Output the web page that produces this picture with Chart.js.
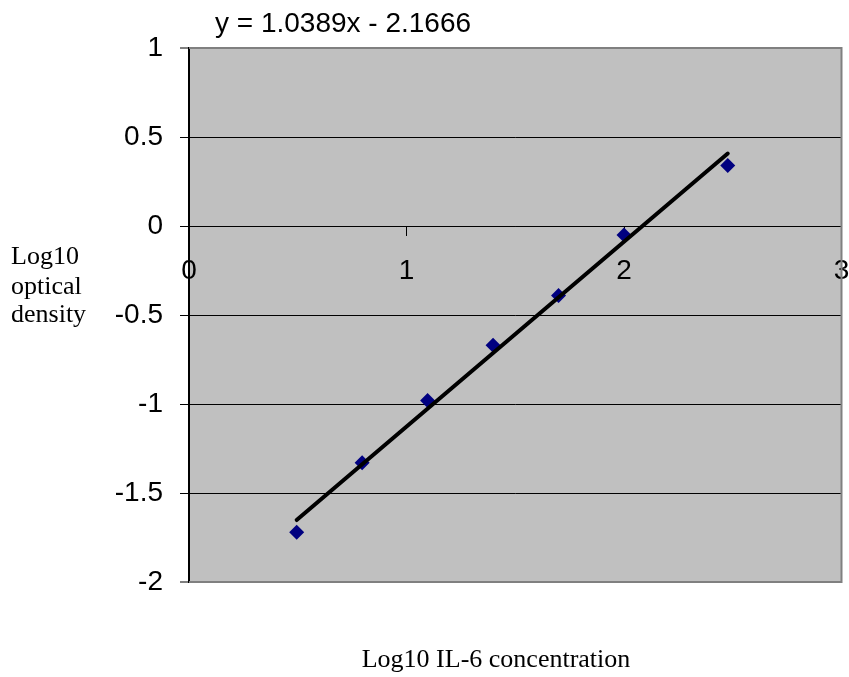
<!DOCTYPE html>
<html>
<head>
<meta charset="utf-8">
<script src="https://cdn.jsdelivr.net/npm/chart.js@4/dist/chart.umd.min.js"></script>
<style>
  html, body { margin: 0; padding: 0; background: #ffffff; }
  #wrap { width: 849px; height: 677px; position: relative; }
</style>
</head>
<body>
<div id="wrap"><canvas id="c" width="849" height="677"></canvas></div>
<script>
// ---- data ----
const xValues = [0.495, 0.796, 1.097, 1.398, 1.699, 2.0, 2.477];   // Log10 IL-6 concentration
const yValues = [-1.72, -1.33, -0.98, -0.67, -0.39, -0.05, 0.34];   // Log10 optical density
const trendX = [0.495, 2.477];
const trendY = [-1.652, 0.407];
const equationText = 'y = 1.0389x - 2.1666';
const xTickValues = [0, 1, 2, 3];
const xTickLabels = ['0', '1', '2', '3'];
const yTickValues = [1, 0.5, 0, -0.5, -1, -1.5, -2];
const yTickLabels = ['1', '0.5', '0', '-0.5', '-1', '-1.5', '-2'];
const yTitleLines = ['Log10', 'optical', 'density'];
const xTitleText = 'Log10 IL-6 concentration';

function labelFor(values, labels, v) {
  for (let i = 0; i < values.length; i++) {
    if (Math.abs(values[i] - v) < 1e-9) return labels[i];
  }
  return '';
}

const points = xValues.map((x, i) => ({ x: x, y: yValues[i] }));
const trend = trendX.map((x, i) => ({ x: x, y: trendY[i] }));

const decor = {
  id: 'decor',
  beforeDraw(chart) {
    const a = chart.chartArea;
    const ctx = chart.ctx;
    ctx.save();
    ctx.fillStyle = '#C0C0C0';
    ctx.fillRect(a.left, a.top, a.right - a.left, a.bottom - a.top);
    ctx.restore();
  },
  beforeDatasetsDraw(chart) {
    const a = chart.chartArea;
    const ctx = chart.ctx;
    ctx.save();
    ctx.strokeStyle = '#808080';
    ctx.lineWidth = 2;
    ctx.beginPath();
    ctx.moveTo(a.left, a.top);
    ctx.lineTo(a.right, a.top);
    ctx.lineTo(a.right, a.bottom);
    ctx.lineTo(a.left, a.bottom);
    ctx.stroke();
    ctx.restore();
  },
  afterDraw(chart) {
    const ctx = chart.ctx;
    ctx.save();
    ctx.fillStyle = '#000000';
    ctx.textBaseline = 'alphabetic';
    ctx.textAlign = 'left';
    ctx.font = '28px "Liberation Sans", Arial, sans-serif';
    ctx.fillText(equationText, 215, 32);
    ctx.font = '26px "Liberation Serif", "Times New Roman", serif';
    const base = [264, 294, 322];
    yTitleLines.forEach((t, i) => ctx.fillText(t, 11, base[i]));
    ctx.textAlign = 'center';
    ctx.font = '26px "Liberation Serif", "Times New Roman", serif';
    ctx.fillText(xTitleText, 496, 667);
    ctx.restore();
  }
};

new Chart(document.getElementById('c'), {
  type: 'scatter',
  data: {
    datasets: [
      {
        type: 'line',
        label: 'trend',
        data: trend,
        borderColor: '#000000',
        borderWidth: 4,
        borderCapStyle: 'round',
        pointRadius: 0,
        fill: false,
        tension: 0,
        order: 0
      },
      {
        label: 'points',
        data: points,
        pointStyle: 'rectRot',
        pointRadius: 7.5,
        pointBackgroundColor: '#000080',
        pointBorderColor: '#000080',
        pointBorderWidth: 0,
        showLine: false,
        order: 1
      }
    ]
  },
  options: {
    responsive: false,
    animation: false,
    events: [],
    layout: { padding: { left: 0, top: 48, right: 6, bottom: 95 } },
    plugins: {
      legend: { display: false },
      tooltip: { enabled: false },
      title: { display: false }
    },
    scales: {
      x: {
        type: 'linear',
        position: { y: 0 },
        min: 0,
        max: 3,
        afterBuildTicks(scale) {
          scale.ticks = xTickValues.map(v => ({ value: v }));
        },
        afterFit(scale) {
          scale.height = 0;
          scale.paddingLeft = 0;
          scale.paddingRight = 0;
        },
        ticks: {
          color: '#000000',
          font: { family: '"Liberation Sans", Arial, sans-serif', size: 28 },
          padding: 19,
          maxRotation: 0,
          autoSkip: false,
          callback: (v) => labelFor(xTickValues, xTickLabels, v)
        },
        grid: {
          drawOnChartArea: false,
          drawTicks: true,
          tickLength: 9,
          tickColor: '#000000',
          tickWidth: 1
        },
        border: { display: true, color: '#000000', width: 1 }
      },
      y: {
        type: 'linear',
        position: 'left',
        min: -2,
        max: 1,
        afterBuildTicks(scale) {
          scale.ticks = yTickValues.slice().reverse().map(v => ({ value: v }));
        },
        afterFit(scale) {
          scale.width = 189;
          scale.paddingTop = 0;
          scale.paddingBottom = 0;
        },
        ticks: {
          color: '#000000',
          font: { family: '"Liberation Sans", Arial, sans-serif', size: 28 },
          padding: 17,
          autoSkip: false,
          callback: (v) => labelFor(yTickValues, yTickLabels, v)
        },
        grid: {
          color: (ctx) => {
            const v = ctx.tick ? ctx.tick.value : 0;
            return (v === 1 || v === -2) ? '#808080' : '#000000';
          },
          lineWidth: (ctx) => {
            const v = ctx.tick ? ctx.tick.value : 0;
            return (v === 1 || v === -2) ? 2 : 1;
          },
          drawTicks: true,
          tickLength: 9,
          tickColor: '#000000',
          tickWidth: 1
        },
        border: { display: true, color: '#000000', width: 2 }
      }
    }
  },
  plugins: [decor]
});
</script>
</body>
</html>
